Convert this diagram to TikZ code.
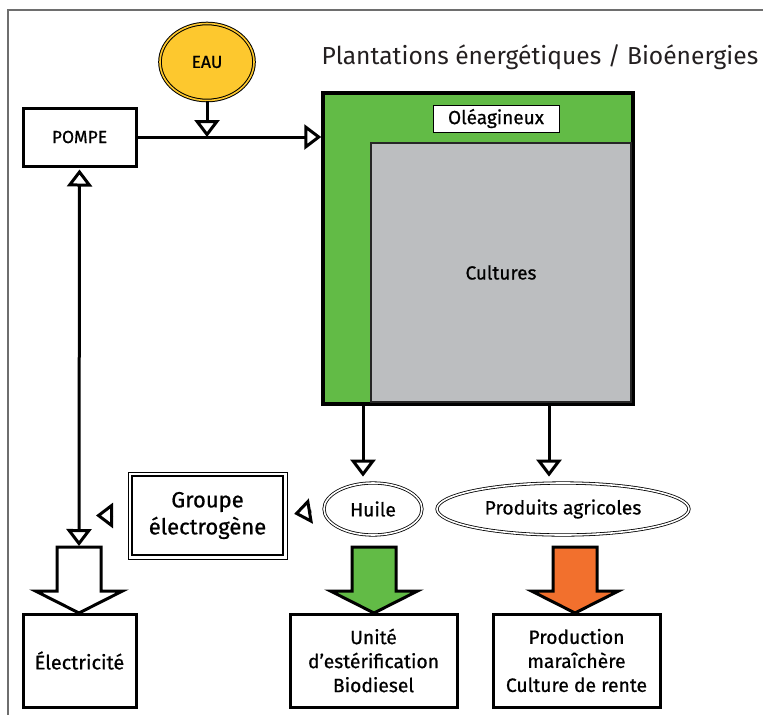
\documentclass[tikz,border=0pt]{standalone}
\usepackage{fontspec}
\setmainfont{Fira Sans}
\newfontfamily\labelfont{Fira Sans}[FakeBold=0.7]
\usepackage{tikz}
\usetikzlibrary{arrows.meta,shapes.geometric}

\definecolor{oilgreen}{RGB}{98,187,70}
\definecolor{cropgray}{RGB}{188,190,192}
\definecolor{cashorange}{RGB}{242,112,45}
\definecolor{wateryellow}{RGB}{253,200,46}
\definecolor{framegray}{RGB}{110,110,110}
\definecolor{titlegray}{RGB}{35,31,32}

\begin{document}
\begin{tikzpicture}[x=1pt,y=-1pt,
  plainbox/.style={draw,line width=3,fill=white,inner sep=0,align=center,
    font=\labelfont\fontsize{19.3}{24}\selectfont},
  oval/.style={ellipse,draw,double,line width=0.8,double distance=1.6,
    fill=white,inner sep=0,font=\labelfont\fontsize{19.3}{24}\selectfont},
  hollow/.style={line width=3,-{Triangle[open,length=17pt,width=25pt]}},
  fatarrow/.style={line width=3,line join=miter}]
  \useasboundingbox (0,0) rectangle (763,715);
  % frame
  \draw[framegray,line width=1.5] (763,10) -- (8,10) -- (8,715);
  % title
  \node[text=titlegray,font=\fontsize{24.6}{28}\selectfont] (title) at (540,57)
       {Plantations énergétiques / Bioénergies};
  % draw plantation
  \node[draw,line width=3.5,fill=oilgreen,minimum width=310,minimum height=311]
       (plant) at (478,248.5) {};
  \node[draw=black!85,line width=2.5,fill=cropgray,minimum width=260,minimum height=259,
        font=\labelfont\fontsize{19}{24}\selectfont] (cult) at (501,272.5) {Cultures};
  \node[draw,line width=1,fill=white,minimum width=126,minimum height=27,inner sep=0,
        font=\labelfont\fontsize{19}{24}\selectfont] (oleag) at (496,118.5) {Oléagineux};
  % draw water and pump
  \node[ellipse,draw,line width=1,double=wateryellow,double distance=1.6,fill=wateryellow,
        minimum width=94,minimum height=77,inner sep=0,font=\labelfont\fontsize{17.5}{20}\selectfont]
       (eau) at (207,62) {EAU};
  \node[plainbox,minimum width=113,minimum height=58,font=\labelfont\fontsize{17.5}{20}\selectfont]
       (pompe) at (79.5,137) {POMPE};
  % draw products
  \node[oval,minimum width=98,minimum height=52] (huile) at (373,509) {Huile};
  \node[oval,minimum width=252,minimum height=52] (produits) at (563,509) {Produits agricoles};
  \node[plainbox,line width=2.5,minimum width=151,minimum height=79,
        font=\labelfont\fontsize{22}{27}\selectfont,
        preaction={draw,line width=1,double=white,double distance=7}]
       (groupe) at (207.5,515.5) {Groupe\\électrogène};
  % draw end uses
  \node[plainbox,minimum width=113,minimum height=93,font=\labelfont\fontsize{19.8}{24}\selectfont]
       (elec) at (79.5,660.5) {Électricité};
  \node[plainbox,minimum width=167,minimum height=93] (unite) at (373.5,660.5)
       {Unité\\d’estérification\\Biodiesel};
  \node[plainbox,minimum width=167,minimum height=93] (prod) at (576.5,660.5)
       {Production\\maraîchère\\Culture de rente};
  % draw big arrows
  \foreach \cx/\col in {79/white, 374/oilgreen, 575/cashorange}
    \draw[fatarrow,fill=\col] (\cx-22,547) -- (\cx+22,547) -- (\cx+22,591)
      -- (\cx+43.5,591) -- (\cx,613) -- (\cx-43.5,591) -- (\cx-22,591) -- cycle;
  \coordinate (elecin) at (79,546);
  \coordinate (oiltap) at (363,404);
  \coordinate (croptap) at (549,404);
  % draw connectors
  \draw[hollow] (eau.south) -- (eau.south |- pompe.east);
  \draw[hollow] (pompe.east) -- (pompe.east -| plant.west);
  \draw[line width=3,{Triangle[open,length=17pt,width=25pt]}-{Triangle[open,length=17pt,width=25pt]},
        shorten <=2] (pompe.south) -- (elecin);
  \draw[hollow,shorten >=6] (oiltap) -- (oiltap |- huile.north);
  \draw[hollow,shorten >=6] (croptap) -- (croptap |- produits.north);
  \draw[hollow,shorten <=12.5,shorten >=10] (huile.west) -- (groupe.east);
  \draw[hollow,shorten <=17.5,shorten >=17] (groupe.west) -- (groupe.west -| elecin);
\end{tikzpicture}
\end{document}
